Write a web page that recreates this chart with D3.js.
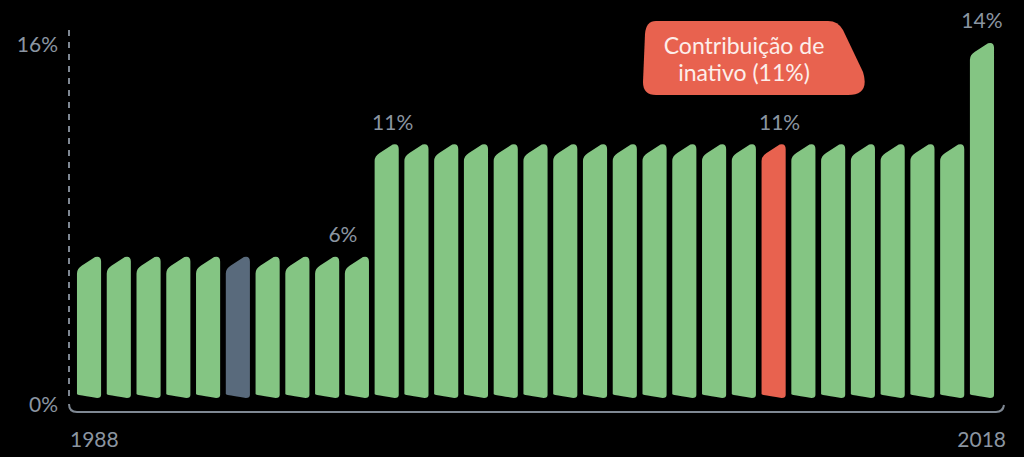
<!DOCTYPE html>
<html><head><meta charset="utf-8">
<script src="https://cdn.jsdelivr.net/npm/d3@7/dist/d3.min.js"></script>
<style>
html,body{margin:0;padding:0;background:#000;}
svg{display:block;}
text{font-family:Lato,"Noto Sans",sans-serif;}
</style></head>
<body>
<script>
// Data
const years = d3.range(1988, 2019);
const values = [6,6,6,6,6,6,6,6,6,6,
  11,11,11,11,11,11,11,11,11,11,11,11,11,11,11,11,11,11,11,11,
  15.5];
const highlightGrey = [1993];
const highlightRed = [2011];
const valueLabels = [
  {year: 1997, text: "6%"},
  {year: 1998, text: "11%"},
  {year: 2011, text: "11%"},
  {year: 2018, text: "14%"}
];
const yTicks = [0, 16];
const xTickYears = [1988, 2018];
const annotationLines = ["Contribuição de", "inativo (11%)"];

const W = 1024, H = 457;
const svg = d3.select("body").append("svg").attr("width", W).attr("height", H);

const x = d3.scaleBand().domain(years).range([74, 997]).paddingInner(0.19).paddingOuter(0.1);
const y = d3.scaleLinear().domain([0, 16]).range([398, 38]);

const green = "#84c583", grey = "#596a7c", red = "#e8624f", axisCol = "#7f8893", txtCol = "#8b95a1";

// axis: dashed vertical + bracket baseline
svg.append("line").attr("x1", 69).attr("x2", 69).attr("y1", 30).attr("y2", 402)
  .attr("stroke", axisCol).attr("stroke-width", 2).attr("stroke-dasharray", "6,6");
svg.append("path")
  .attr("d", `M69,404 Q69,412 77,412 L996,412 Q1003,412 1004,405`)
  .attr("fill", "none").attr("stroke", axisCol).attr("stroke-width", 2);

// bars
function barPath(d, i) {
  const x0 = x(d.year), x1 = x0 + x.bandwidth();
  const ym = y(d.value);
  const yr = ym - 6.5, yl = ym + 6.5;
  const b = 398;
  return `M${x0},${b-4} L${x0},${yl+4} Q${x0},${yl-1} ${x0+5},${yl-4} L${x1-6},${yr+0.5} Q${x1},${yr-1} ${x1},${yr+5} L${x1},${b-3} Q${x1},${b} ${x1-4},${b} Q${x0+8},${b-2} ${x0+2},${b-3} Q${x0},${b-3.5} ${x0},${b-4} Z`;
}
const data = years.map((yr, i) => ({year: yr, value: values[i]}));
svg.append("g").selectAll("path").data(data).join("path")
  .attr("d", barPath)
  .attr("fill", d => highlightGrey.includes(d.year) ? grey : highlightRed.includes(d.year) ? red : green);

// value labels
const labelDx = {1997: -14, 1998: 6, 2011: 6, 2018: 0};
svg.append("g").selectAll("text").data(valueLabels).join("text")
  .attr("x", d => x(d.year) + x.bandwidth()/2 + labelDx[d.year])
  .attr("y", d => y(values[years.indexOf(d.year)]) - 21)
  .attr("text-anchor", "middle").attr("fill", txtCol).attr("font-size", 21)
  .text(d => d.text);

// y tick labels
svg.append("g").selectAll("text").data(yTicks).join("text")
  .attr("x", 58).attr("y", d => y(d) + 14)
  .attr("text-anchor", "end").attr("fill", txtCol).attr("font-size", 21)
  .text(d => d + "%");

// x tick labels
svg.append("g").selectAll("text").data(xTickYears).join("text")
  .attr("x", (d, i) => i === 0 ? x(d) - 7 : x(d) + x.bandwidth() + 12)
  .attr("y", 447)
  .attr("text-anchor", (d, i) => i === 0 ? "start" : "end")
  .attr("fill", txtCol).attr("font-size", 21)
  .text(d => d);

// annotation box
const ann = svg.append("g");
ann.append("path")
  .attr("d", "M656,21 L828,21 Q838,21 843,30 L863,72 Q870,95 848,95 L656,95 Q643,95 643,82 L645,34 Q646,21 656,21 Z")
  .attr("fill", red);
ann.selectAll("text").data(annotationLines).join("text")
  .attr("x", 744).attr("y", (d, i) => 54 + i * 27)
  .attr("text-anchor", "middle").attr("fill", "#fdeeea").attr("font-size", 23)
  .text(d => d);
</script>
</body></html>
